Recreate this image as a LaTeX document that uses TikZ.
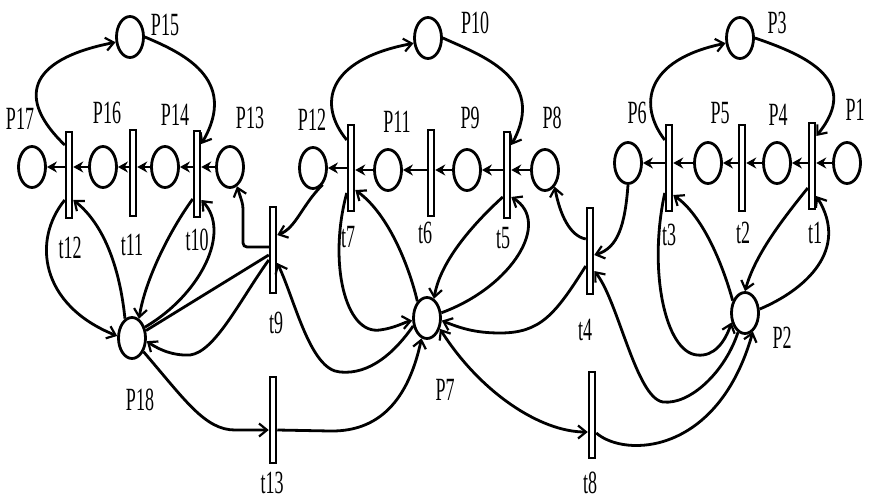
\documentclass[tikz,border=0pt]{standalone}
\usepackage{fontspec}
\usepackage{graphicx}
\setmainfont{Liberation Serif}
\usetikzlibrary{shapes.geometric,arrows.meta}
\newcommand{\lbl}[1]{\scalebox{1}[1.8]{#1}}
\tikzset{
 place/.style={draw, ellipse, line width=2.8pt, minimum width=27pt, minimum height=41pt, inner sep=0pt},
 trans/.style={draw, rectangle, fill=white, line width=2.5pt, minimum width=6pt, minimum height=86pt, inner sep=0pt},
 lab/.style={font=\fontsize{18}{18}\selectfont, inner sep=0pt},
 flow/.style={line width=2.8pt, -{Straight Barb[length=8pt,width=13pt,line width=2.2pt]}},
 bflow/.style={line width=2.8pt, {Straight Barb[length=8pt,width=13pt,line width=2.2pt]}-{Straight Barb[length=8pt,width=13pt,line width=2.2pt]}},
 plain/.style={line width=2.8pt},
 hflow/.style={line width=2.8pt, -{Stealth[length=10pt,width=11pt]}},
}
\begin{document}
\begin{tikzpicture}[x=1pt,y=-1pt]
\useasboundingbox (0,0) rectangle (874,500);
% places
\node[place] (P15) at (130,37) {};
\node[place] (P10) at (428,38) {};
\node[place] (P3) at (740,38) {};
\node[place] (P17) at (32,167) {};
\node[place] (P16) at (103,167) {};
\node[place] (P14) at (165,167) {};
\node[place] (P13) at (230,167) {};
\node[place] (P12) at (313,168) {};
\node[place] (P11) at (388,170) {};
\node[place] (P9) at (467,170) {};
\node[place] (P8) at (545,170) {};
\node[place] (P6) at (628,163) {};
\node[place] (P5) at (708,163) {};
\node[place] (P4) at (777,163) {};
\node[place] (P1) at (847,163) {};
\node[place] (P18) at (132,338) {};
\node[place] (P7) at (427,318) {};
\node[place] (P2) at (745,313) {};
% transitions
\node[trans] (t12) at (69,175) {};
\node[trans] (t11) at (133,173) {};
\node[trans] (t10) at (197,174) {};
\node[trans] (t7) at (351,168) {};
\node[trans] (t6) at (431,173) {};
\node[trans] (t5) at (507,175) {};
\node[trans] (t3) at (669,168) {};
\node[trans] (t2) at (742,168) {};
\node[trans] (t1) at (812,166) {};
\node[trans] (t9) at (273,250) {};
\node[trans] (t4) at (590,251) {};
\node[trans] (t13) at (273,420) {};
\node[trans] (t8) at (592,415) {};
% labels
\node[lab] (lP15) at (165,25) {\lbl{P15}};
\node[lab] (lP10) at (475,23) {\lbl{P10}};
\node[lab] (lP3) at (777,23) {\lbl{P3}};
\node[lab] (lP17) at (20,119) {\lbl{P17}};
\node[lab] (lP16) at (107,113) {\lbl{P16}};
\node[lab] (lP14) at (175,115) {\lbl{P14}};
\node[lab] (lP13) at (250,118) {\lbl{P13}};
\node[lab] (lP12) at (312,120) {\lbl{P12}};
\node[lab] (lP11) at (397,122) {\lbl{P11}};
\node[lab] (lP9) at (470,118) {\lbl{P9}};
\node[lab] (lP8) at (552,118) {\lbl{P8}};
\node[lab] (lP6) at (637,113) {\lbl{P6}};
\node[lab] (lP5) at (720,113) {\lbl{P5}};
\node[lab] (lP4) at (778,115) {\lbl{P4}};
\node[lab] (lP1) at (855,110) {\lbl{P1}};
\node[lab] (lt12) at (70,248) {\lbl{t12}};
\node[lab] (lt11) at (132,245) {\lbl{t11}};
\node[lab] (lt10) at (197,240) {\lbl{t10}};
\node[lab] (lt9) at (276,323) {\lbl{t9}};
\node[lab] (lt13) at (272,483) {\lbl{t13}};
\node[lab] (lt7) at (348,237) {\lbl{t7}};
\node[lab] (lt6) at (425,233) {\lbl{t6}};
\node[lab] (lt5) at (503,238) {\lbl{t5}};
\node[lab] (lt4) at (585,330) {\lbl{t4}};
\node[lab] (lt8) at (590,483) {\lbl{t8}};
\node[lab] (lt3) at (669,235) {\lbl{t3}};
\node[lab] (lt2) at (743,233) {\lbl{t2}};
\node[lab] (lt1) at (815,233) {\lbl{t1}};
\node[lab] (lP18) at (140,400) {\lbl{P18}};
\node[lab] (lP7) at (445,390) {\lbl{P7}};
\node[lab] (lP2) at (782,338) {\lbl{P2}};
% horizontal arcs, right
\draw[hflow] (P1) -- (t1.east |- P1);
\draw[hflow] (t1.west |- P4) -- (P4);
\draw[hflow] (P4) -- (t2.east |- P4);
\draw[hflow] (t2.west |- P5) -- (P5);
\draw[hflow] (P5) -- (t3.east |- P5);
\draw[hflow] (t3.west |- P6) -- (P6);
% horizontal arcs, middle
\draw[hflow] (P8) -- (t5.east |- P8);
\draw[hflow] (t5.west |- P9) -- (P9);
\draw[hflow] (P9) -- (t6.east |- P9);
\draw[hflow] (t6.west |- P11) -- (P11);
\draw[hflow] (P11) -- (t7.east |- P11);
\draw[hflow] (t7.west |- P12) -- (P12);
% horizontal arcs, left
\draw[hflow] (P13) -- (t10.east |- P13);
\draw[hflow] (t10.west |- P14) -- (P14);
\draw[hflow] (P14) -- (t11.east |- P14);
\draw[hflow] (t11.west |- P16) -- (P16);
\draw[hflow] (P16) -- (t12.east |- P16);
\draw[hflow] (t12.west |- P17) -- (P17);
% top loops
\draw[flow] (P3.east) .. controls (805,55) and (862,80) .. ([yshift=30pt]t1.east);
\draw[flow] ([yshift=28pt]t3.west) .. controls (638,105) and (645,60) .. (P3.200);
\draw[flow] (P10.east) .. controls (480,55) and (548,78) .. ([yshift=30pt]t5.east);
\draw[flow] ([yshift=28pt]t7.west) .. controls (318,105) and (325,60) .. (P10.200);
\draw[flow] (P15.east) .. controls (180,52) and (240,78) .. ([yshift=30pt]t10.east);
\draw[flow] ([yshift=30pt]t12.west) .. controls (18,100) and (25,60) .. (P15.200);
% right cluster
\draw[flow] ([yshift=-22pt]t1.west) .. controls (782,220) and (755,255) .. (P2.north);
\draw[flow] (P2.15) .. controls (805,290) and (850,250) .. ([yshift=-30pt]t1.east);
\draw[flow] (P2.135) .. controls (722,262) and (702,215) .. ([yshift=-27pt]t3.east);
\draw[flow] ([yshift=-25pt]t3.west) .. controls (648,270) and (665,352) .. (697,355) .. controls (714,357) and (725,342) .. (P2.215);
\draw[flow] (P6.south) .. controls (625,225) and (618,248) .. ([yshift=-4pt]t4.east);
\draw[flow] ([yshift=12pt]t4.west) .. controls (570,236) and (560,215) .. (P8.300);
\draw[flow] ([yshift=-15pt]t4.west) .. controls (555,315) and (540,333) .. (500,333) .. controls (475,333) and (460,328) .. (P7.-10);
\draw[flow] (P2.250) .. controls (725,372) and (690,405) .. (663,402) .. controls (636,398) and (618,300) .. ([yshift=-20pt]t4.east);
\draw[flow] ([yshift=-18pt]t8.east) .. controls (625,458) and (718,455) .. (P2.293);
\draw[bflow] (P7.-40) .. controls (480,392) and (540,432) .. ([yshift=-17pt]t8.west);
% middle cluster
\draw[flow] ([yshift=-22pt]t5.west) .. controls (472,225) and (440,262) .. (P7.70);
\draw[flow] (P7.20) .. controls (512,287) and (552,222) .. ([yshift=-22pt]t5.east);
\draw[flow] (P7.120) .. controls (410,270) and (390,215) .. ([yshift=-22pt]t7.east);
\draw[flow] ([yshift=-25pt]t7.west) .. controls (328,262) and (345,335) .. (380,330) .. controls (395,328) and (405,322) .. (P7.190);
\draw[flow] (P7.210) .. controls (395,352) and (370,375) .. (340,372) .. controls (310,370) and (295,300) .. ([yshift=-13pt]t9.east);
\draw[flow] (P12.300) .. controls (302,205) and (296,228) .. ([yshift=15pt]t9.east);
\draw[flow, rounded corners=4pt] ([yshift=3pt]t9.west) -- (243,247) -- (243,205) -- (P13.290);
\draw[flow] ([yshift=-10pt]t13.east) -- (330,431) .. controls (385,432) and (410,392) .. (P7.255);
\draw[flow] (P18.-50) .. controls (185,400) and (205,430) .. (235,430) -- ([yshift=-10pt]t13.west);
% left cluster
\draw[flow] ([yshift=-25pt]t10.west) .. controls (170,230) and (145,280) .. (P18.70);
\draw[flow] (P18.40) .. controls (200,295) and (232,232) .. ([yshift=-26pt]t10.east);
\draw[flow] (P18.110) .. controls (120,270) and (105,225) .. ([yshift=-25pt]t12.east);
\draw[flow] ([yshift=-25pt]t12.west) .. controls (32,240) and (40,305) .. (P18.172);
\draw[flow] ([yshift=-10pt]t9.west) .. controls (240,300) and (215,352) .. (190,355) .. controls (170,356) and (155,347) .. (P18.-12);
\draw[plain] ([yshift=-5pt]t9.west) -- (P18.28);
\end{tikzpicture}
\end{document}
